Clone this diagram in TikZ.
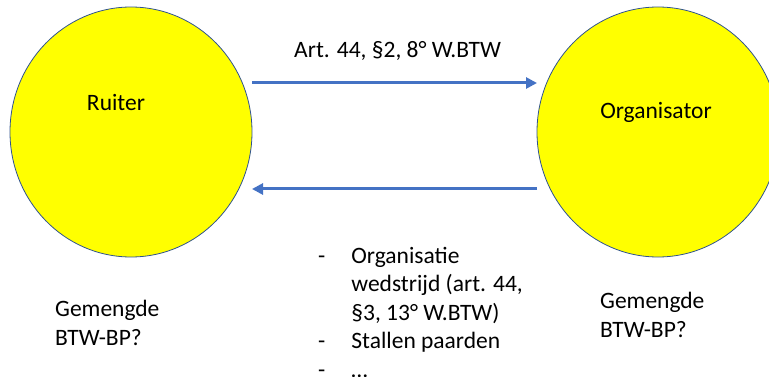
\documentclass[tikz,border=0pt]{standalone}
\usepackage{fontspec}
\setmainfont{Carlito}
\usetikzlibrary{arrows.meta,shapes.geometric}
\definecolor{circfill}{HTML}{FFFF00}
\definecolor{circline}{HTML}{2F528F}
\definecolor{arrowblue}{HTML}{4472C4}
\tikzset{
  party/.style={ellipse, draw=circline, line width=0.8pt, fill=circfill,
    minimum width=242pt, minimum height=250pt, inner sep=0pt},
  lbl/.style={font=\fontsize{23.5}{28.5}\selectfont, inner sep=0pt, anchor=base west},
  flow/.style={draw=arrowblue, line width=3pt, -{Triangle[length=11pt,width=11pt]}}
}
\begin{document}
\begin{tikzpicture}[x=1pt,y=-1pt]
\useasboundingbox (0,0) rectangle (769,377);
\begin{scope}
\clip (0,0) rectangle (769,377);
\node[party] (ruiter) at (131,132) {};
\node[party] (org) at (658,132) {};
\end{scope}
\node[lbl, anchor=base] (tr) at (116,111) {Ruiter};
\node[lbl, anchor=base] (to) at (656,119) {Organisator};
\coordinate (a1) at (252,83);
\coordinate (b1) at (537,83);
\coordinate (a2) at (537,189);
\coordinate (b2) at (252,189);
\draw[flow] (a1) -- (b1);
\draw[flow] (a2) -- (b2);
\node[lbl] (art) at (294,58) {Art. 44, §2, 8° W.BTW};
\node[lbl, anchor=base west] (list) at (318,263) {\fontsize{23.5}{28.5}\selectfont
  \begin{tabular}[t]{@{}l@{\hspace{26pt}}l@{}}
  - & Organisatie\\
    & wedstrijd (art. 44,\\
    & §3, 13° W.BTW)\\
  - & Stallen paarden\\
  - & …
  \end{tabular}};
\node[lbl, align=left, anchor=base west] (gl) at (55,345) {Gemengde\\BTW-BP?};
\node[lbl, align=left, anchor=base west] (gr) at (600,337) {Gemengde\\BTW-BP?};
\end{tikzpicture}
\end{document}
